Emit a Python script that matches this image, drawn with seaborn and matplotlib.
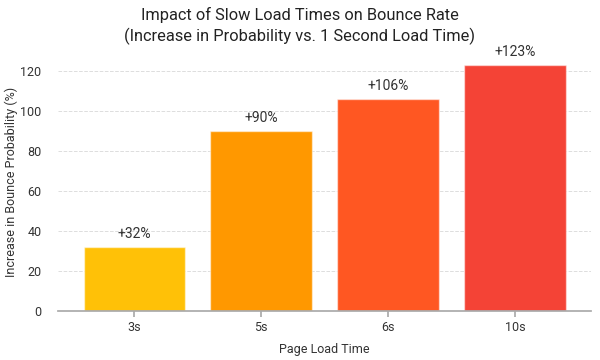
import matplotlib
matplotlib.use("Agg")
import matplotlib.pyplot as plt
import seaborn as sns
import pandas as pd

categories = ["3s", "5s", "6s", "10s"]
values = [32, 90, 106, 123]
labels = ["+32%", "+90%", "+106%", "+123%"]
colors = ["#FFC107", "#FF9800", "#FF5722", "#F44336"]

sns.set_theme(style="white")
plt.rcParams['font.family'] = ['Roboto', 'DejaVu Sans']

df = pd.DataFrame({"Page Load Time": categories, "value": values})

fig = plt.figure(figsize=(6, 3.6), dpi=100)
ax = fig.add_axes([0.097, 0.136, 0.888, 0.717])
sns.barplot(data=df, x="Page Load Time", y="value", hue="Page Load Time",
            palette=colors, legend=False, width=0.8, ax=ax,
            edgecolor=(1, 1, 1, 0.5), linewidth=1, saturation=1)

for p, lab in zip(ax.patches, labels):
    ax.annotate(lab, (p.get_x() + p.get_width() / 2, p.get_height()),
                xytext=(0, 4), textcoords="offset points",
                ha="center", va="bottom", fontsize=10, color="#333333")

ax.set_ylim(0, 129)
ax.set_xlim(-0.6, 3.6)
ax.set_yticks([0, 20, 40, 60, 80, 100, 120])
ax.yaxis.grid(True, linestyle="--", color="#dddddd", linewidth=0.7)
ax.set_axisbelow(True)
for s in ["top", "right", "left"]:
    ax.spines[s].set_visible(False)
ax.spines["bottom"].set_color("#aaaaaa")
ax.tick_params(axis="x", bottom=True, length=4, color="#aaaaaa", labelsize=9, labelcolor="#333333")
ax.tick_params(axis="y", left=False, labelsize=9, labelcolor="#333333", pad=6)
ax.set_xlabel("Page Load Time", fontsize=9, color="#333333", labelpad=6)
ax.set_ylabel("Increase in Bounce Probability (%)", fontsize=9, color="#333333")
ax.yaxis.set_label_coords(-0.076, 0.5)
fig.suptitle("Impact of Slow Load Times on Bounce Rate\n(Increase in Probability vs. 1 Second Load Time)",
             y=0.98, fontsize=11.8, color="#222222", linespacing=1.3)

fig.savefig("out.png", dpi=100, facecolor="white")
